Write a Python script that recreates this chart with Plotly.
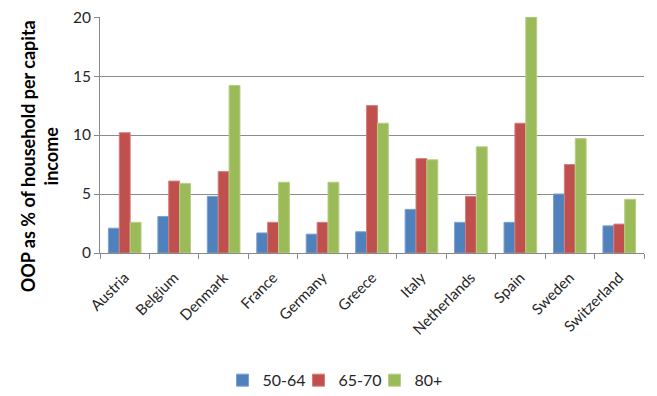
import plotly.graph_objects as go

countries = ["Austria", "Belgium", "Denmark", "France", "Germany", "Greece",
             "Italy", "Netherlands", "Spain", "Sweden", "Switzerland"]
age_50_64 = [2.1, 3.1, 4.8, 1.7, 1.6, 1.8, 3.7, 2.6, 2.6, 5.0, 2.3]
age_65_70 = [10.2, 6.1, 6.9, 2.6, 2.6, 12.5, 8.0, 4.8, 11.0, 7.5, 2.45]
age_80p = [2.6, 5.9, 14.2, 6.0, 6.0, 11.0, 7.9, 9.0, 20.0, 9.7, 4.55]
y_ticks = [0, 5, 10, 15, 20]
y_title = "OOP as % of household per capita<br>income"

series = [("50-64", age_50_64, "#4F81BD", "#7DA0CE"),
          ("65-70", age_65_70, "#C0504D", "#D27E7C"),
          ("80+", age_80p, "#9BBB59", "#B6CE85")]

fig = go.Figure()
for name, vals, col, edge in series:
    fig.add_trace(go.Bar(x=countries, y=vals, name=name,
                         marker=dict(color=col, line=dict(color=edge, width=1))))

font_fam = "Lato, 'Open Sans', sans-serif"
txt = "#262626"
fig.update_layout(
    width=657, height=396,
    margin=dict(l=92, r=21, t=9, b=151, autoexpand=False),
    paper_bgcolor="white", plot_bgcolor="white",
    barmode="group", bargap=0.34, bargroupgap=0,
    font=dict(family=font_fam, color=txt),
    legend=dict(orientation="h", xref="container", yref="container",
                x=0.5, y=0.06, xanchor="center", yanchor="middle",
                font=dict(size=16, color=txt), traceorder="normal",
                itemwidth=30, entrywidth=31, entrywidthmode="pixels"),
    showlegend=True,
    annotations=[dict(text=y_title, textangle=-90, xref="paper", yref="paper",
                      x=0, y=0.41, xanchor="center", yanchor="middle",
                      xshift=-61, showarrow=False, align="center",
                      font=dict(size=18, family=font_fam, color="black", weight="bold"))],
)
fig.update_xaxes(
    type="category", tickangle=-45, tickfont=dict(size=15, color=txt),
    ticklabelstandoff=9,
    showline=True, linecolor="#888888", linewidth=1, automargin=False,
    ticks="outside", ticklen=5, tickcolor="#888888", tickson="boundaries",
    showgrid=False,
)
fig.update_yaxes(
    range=[0, 20.01], tickvals=y_ticks, tickfont=dict(size=15.5, color=txt),
    ticklabeloverflow="allow",
    showline=True, linecolor="#888888", linewidth=1, automargin=False,
    ticks="outside", ticklen=5, tickcolor="#888888",
    showgrid=True, gridcolor="#8C8C8C", gridwidth=1, zeroline=False,
)

fig.write_html("out.html")
